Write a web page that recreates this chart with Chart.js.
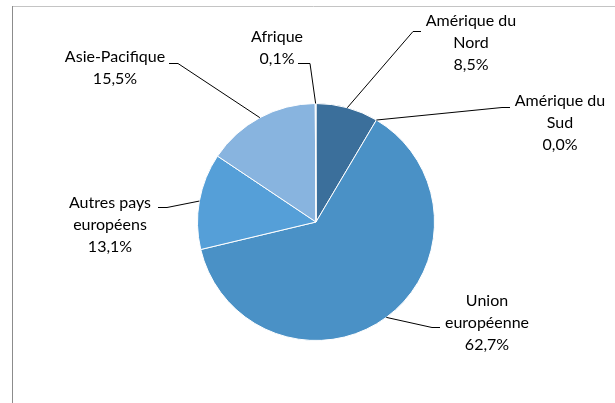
<!DOCTYPE html>
<html>
<head>
<meta charset="utf-8">
<script src="https://cdn.jsdelivr.net/npm/chart.js@4/dist/chart.umd.min.js"></script>
<style>
  html, body { margin: 0; padding: 0; background: #fff; }
  canvas { display: block; }
</style>
</head>
<body>
<canvas id="pie" width="615" height="403"></canvas>
<script>
// categories, each split the way the label wraps
const categoryLines = [
  ['Amérique du', 'Nord'],
  ['Amérique du', 'Sud'],
  ['Union', 'européenne'],
  ['Autres pays', 'européens'],
  ['Asie-Pacifique'],
  ['Afrique'],
];
const categories = categoryLines.map(l => l.join(' '));
const shares = [8.5, 0.0, 62.7, 13.1, 15.5, 0.1]; // %
const sliceColors = ['#3b6f9b', '#4a91c6', '#4a91c6', '#559fd8', '#88b4df', '#a9c6e6'];

// where each data label sits: text centre x, first row y, leader elbow and stub end
const labelLayout = [
  { x: 471, y: 21, elbow: [413, 31], stub: [421, 31] },
  { x: 560, y: 101, elbow: [502, 107], stub: [510, 107] },
  { x: 487, y: 301, elbow: [432, 327], stub: [440, 327] },
  { x: 110, y: 203, elbow: [167, 207], stub: [158, 207] },
  { x: 115, y: 57, elbow: [178, 63], stub: [169, 63] },
  { x: 277, y: 37, elbow: [310, 63], stub: [298, 63] },
];
const LINE_H = 22;

const fmt = v => v.toFixed(1).replace('.', ',') + '%';

const frame = {
  id: 'frame',
  beforeDraw(chart) {
    const ctx = chart.ctx;
    ctx.save();
    ctx.fillStyle = '#fff';
    ctx.fillRect(0, 0, chart.width, chart.height);
    ctx.lineWidth = 1;
    ctx.strokeStyle = '#c4c4c4';
    ctx.beginPath();
    ctx.moveTo(12, 6.5);
    ctx.lineTo(chart.width, 6.5);
    ctx.stroke();
    ctx.strokeStyle = '#8c8c8c';
    ctx.beginPath();
    ctx.moveTo(12.5, 6);
    ctx.lineTo(12.5, chart.height);
    ctx.stroke();
    ctx.restore();
  }
};

const pieLabels = {
  id: 'pieLabels',
  afterDatasetsDraw(chart) {
    const ctx = chart.ctx;
    const meta = chart.getDatasetMeta(0);
    ctx.save();
    ctx.font = '16px Lato';
    ctx.fillStyle = '#000';
    ctx.strokeStyle = '#000';
    ctx.lineWidth = 1;
    ctx.textAlign = 'center';
    ctx.textBaseline = 'middle';
    meta.data.forEach((arc, i) => {
      const p = arc.getProps(['x', 'y', 'startAngle', 'endAngle', 'outerRadius'], true);
      const mid = (p.startAngle + p.endAngle) / 2;
      const ex = p.x + p.outerRadius * Math.cos(mid);
      const ey = p.y + p.outerRadius * Math.sin(mid);
      const lay = labelLayout[i];
      ctx.beginPath();
      ctx.moveTo(ex, ey);
      ctx.lineTo(lay.elbow[0], lay.elbow[1] + 0.5);
      ctx.lineTo(lay.stub[0], lay.stub[1] + 0.5);
      ctx.stroke();
      const rows = categoryLines[i].concat([fmt(shares[i])]);
      rows.forEach((t, k) => ctx.fillText(t, lay.x, lay.y + k * LINE_H));
    });
    ctx.restore();
  }
};

new Chart(document.getElementById('pie'), {
  type: 'pie',
  data: {
    labels: categories,
    datasets: [{
      data: shares,
      backgroundColor: sliceColors,
      borderColor: '#fff',
      borderWidth: 1,
    }],
  },
  options: {
    responsive: false,
    animation: false,
    layout: { padding: { left: 197, right: 180, top: 103, bottom: 62 } },
    plugins: {
      legend: { display: false },
      tooltip: { enabled: false },
    },
  },
  plugins: [frame, pieLabels],
});
</script>
</body>
</html>
